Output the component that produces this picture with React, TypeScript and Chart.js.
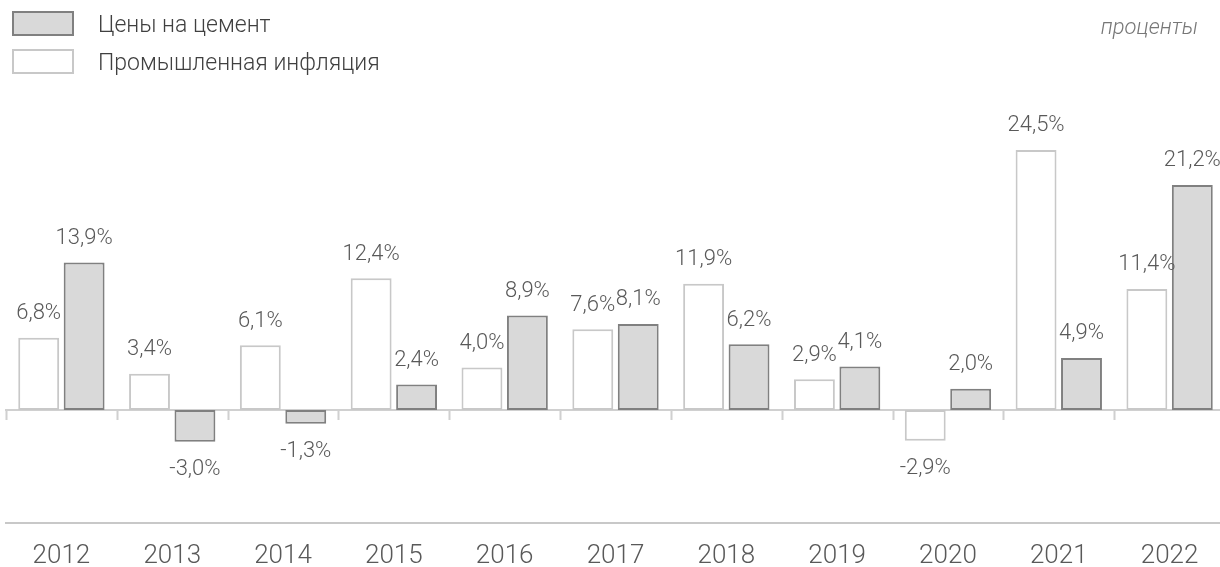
import React, { useEffect, useRef } from "react";
import { Chart, registerables } from "chart.js";

Chart.register(...registerables);

const years = ["2012", "2013", "2014", "2015", "2016", "2017", "2018", "2019", "2020", "2021", "2022"];
const industrialInflation = [6.8, 3.4, 6.1, 12.4, 4.0, 7.6, 11.9, 2.9, -2.9, 24.5, 11.4];
const cementPrices = [13.9, -3.0, -1.3, 2.4, 8.9, 8.1, 6.2, 4.1, 2.0, 4.9, 21.2];
const seriesNames = ["Промышленная инфляция", "Цены на цемент"];
const unitLabel = "проценты";

const FONT = "Roboto";
const TEXT = "#595959";

const fmt = (v: number) => v.toFixed(1).replace(".", ",") + "%";

const decorPlugin = {
  id: "decor",
  beforeDatasetsDraw(chart: any) {
    const { ctx, chartArea, scales } = chart;
    const y0 = scales.y.getPixelForValue(0);
    const n = chart.data.labels.length;
    const w = (chartArea.right - chartArea.left) / n;
    ctx.save();
    ctx.strokeStyle = "#d0d0d0";
    ctx.lineWidth = 2;
    ctx.beginPath();
    ctx.moveTo(chartArea.left - 1, y0);
    ctx.lineTo(chartArea.right, y0);
    for (let i = 0; i <= n; i++) {
      const x = Math.round(chartArea.left + i * w) + 0.5;
      ctx.moveTo(x, y0);
      ctx.lineTo(x, y0 + 10);
    }
    ctx.stroke();
    ctx.restore();
  },
  afterDatasetsDraw(chart: any) {
    const { ctx } = chart;
    ctx.save();
    ctx.font = `300 22px ${FONT}`;
    ctx.fillStyle = TEXT;
    ctx.textAlign = "center";
    ctx.textBaseline = "middle";
    chart.data.datasets.forEach((ds: any, di: number) => {
      const meta = chart.getDatasetMeta(di);
      meta.data.forEach((bar: any, i: number) => {
        const v = ds.data[i];
        const y = v >= 0 ? bar.y - 24 : bar.y + 28;
        ctx.fillText(fmt(v), bar.x, y);
      });
    });
    // legend
    const items = [
      { label: chart.data.datasets[1].label, fill: chart.data.datasets[1].backgroundColor, stroke: chart.data.datasets[1].borderColor, y: 11 },
      { label: chart.data.datasets[0].label, fill: chart.data.datasets[0].backgroundColor, stroke: chart.data.datasets[0].borderColor, y: 49 },
    ];
    items.forEach((it) => {
      ctx.fillStyle = it.fill;
      ctx.strokeStyle = it.stroke;
      ctx.lineWidth = 2;
      ctx.fillRect(13, it.y + 1, 60, 23);
      ctx.strokeRect(13, it.y + 1, 60, 23);
      ctx.fillStyle = "#404040";
      ctx.font = `300 23px ${FONT}`;
      ctx.textAlign = "left";
      ctx.textBaseline = "middle";
      ctx.fillText(it.label, 98, it.y + 15);
    });
    ctx.font = `italic 300 22px ${FONT}`;
    ctx.fillStyle = "#777777";
    ctx.textAlign = "right";
    ctx.fillText(unitLabel, 1198, 28);
    ctx.restore();
  },
};

export default function App() {
  const ref = useRef<HTMLCanvasElement | null>(null);
  useEffect(() => {
    document.body.style.margin = "0";
    document.documentElement.style.overflow = "hidden";
    const chart = new Chart(ref.current as HTMLCanvasElement, {
      type: "bar",
      data: {
        labels: years,
        datasets: [
          {
            label: seriesNames[0],
            data: industrialInflation,
            backgroundColor: "#ffffff",
            borderColor: "#c8c8c8",
            borderWidth: 2,
            borderSkipped: false,
          },
          {
            label: seriesNames[1],
            data: cementPrices,
            backgroundColor: "#d9d9d9",
            borderColor: "#808080",
            borderWidth: 2,
            borderSkipped: false,
          },
        ],
      },
      options: {
        animation: false,
        responsive: false,
        maintainAspectRatio: false,
        layout: { padding: { left: 6, right: 7, top: 100, bottom: -22 } },
        datasets: { bar: { categoryPercentage: 0.82, barPercentage: 0.9 } },
        plugins: { legend: { display: false }, tooltip: { enabled: false }, title: { display: false } },
        scales: {
          x: {
            grid: { display: false, drawTicks: false },
            border: { display: true, color: "#c8c8c8", width: 2 },
            ticks: { color: TEXT, font: { family: FONT, size: 26, weight: "300", lineHeight: 1 }, padding: 20 },
          },
          y: {
            display: false,
            min: -10.65,
            max: 29.2,
          },
        },
      },
      plugins: [decorPlugin],
    } as any);
    return () => chart.destroy();
  }, []);
  return (
    <div style={{ position: "absolute", left: 0, top: 0, width: 1232, height: 567 }}>
      <canvas ref={ref} width={1232} height={567} style={{ width: 1232, height: 567, display: "block" }} />
    </div>
  );
}
